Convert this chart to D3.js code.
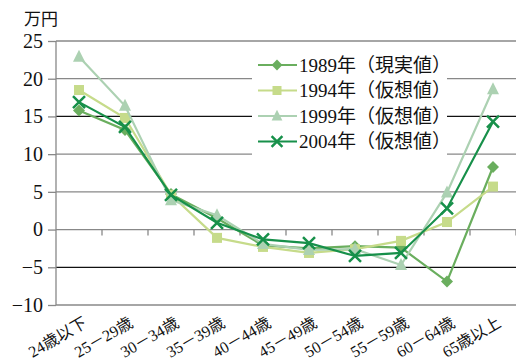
<!DOCTYPE html>
<html><head><meta charset="utf-8">
<script src="https://cdn.jsdelivr.net/npm/d3@7"></script>
<style>
body{margin:0;background:#fff;}
</style></head>
<body><svg id="c" width="516" height="363"></svg>
<script>
const categories = ["24歳以下","25－29歳","30－34歳","35－39歳","40－44歳","45－49歳","50－54歳","55－59歳","60－64歳","65歳以上"];
const s1989 = [15.8, 13.2, 4.7, 1.5, -2.1, -2.5, -2.2, -2.4, -6.9, 8.3];
const s1994 = [18.5, 14.8, 4.6, -1.1, -2.3, -3.1, -2.6, -1.5, 1.0, 5.7];
const s1999 = [22.9, 16.4, 3.9, 1.9, -1.9, -2.7, -2.6, -4.7, 4.9, 18.6];
const s2004 = [16.9, 13.6, 4.6, 0.9, -1.3, -1.8, -3.5, -3.1, 2.8, 14.3];
const seriesNames = ["1989年（現実値）","1994年（仮想値）","1999年（仮想値）","2004年（仮想値）"];
const yTicks = [-10,-5,0,5,10,15,20,25];

const FONT = "Liberation Serif, Times New Roman, DejaVu Serif, Noto Sans CJK JP, serif";
const series = [
  {name:seriesNames[0], values:s1989, color:"#6aae5e", sym:"diamond"},
  {name:seriesNames[1], values:s1994, color:"#c6db8a", sym:"square"},
  {name:seriesNames[2], values:s1999, color:"#acd1b2", sym:"triangle"},
  {name:seriesNames[3], values:s2004, color:"#17904a", sym:"cross"}
];

const svg = d3.select("#c").style("font-family",FONT);
const L=56, R=516, T=41, B=305;
const x = d3.scaleBand().domain(categories).range([L,R]);
const y = d3.scaleLinear().domain([-10,25]).range([B,T]);

// grid
svg.append("g").selectAll("line").data(yTicks.filter(d=>d>-10)).join("line")
  .attr("x1",L).attr("x2",R).attr("y1",d=>y(d)).attr("y2",d=>y(d))
  .attr("stroke",d=>(d===15||d===-5)?"#111":"#888").attr("stroke-width",1.3);

// y axis
const ya = svg.append("g").attr("transform",`translate(${L},0)`)
  .call(d3.axisLeft(y).tickValues(yTicks).tickSize(8).tickPadding(5).tickFormat(d=>d<0?"−"+Math.abs(d):d));
ya.attr("font-family",FONT);
ya.selectAll("path,line").attr("stroke","#888").attr("stroke-width",1.3);
ya.select(".domain").attr("d",`M0,${B}V${T}`);
ya.selectAll("text").attr("font-size",20).style("font-family",FONT).attr("fill","#111");

// bottom axis line
svg.append("line").attr("x1",L).attr("x2",R).attr("y1",B).attr("y2",B).attr("stroke","#888").attr("stroke-width",1.3);

// x ticks at zero line
const boundaries = categories.slice(1).map(c=>x(c)).concat([R]);
svg.append("g").selectAll("line").data(boundaries).join("line")
  .attr("x1",d=>d).attr("x2",d=>d).attr("y1",y(0)).attr("y2",y(0)+6)
  .attr("stroke","#888").attr("stroke-width",1.3);

// x labels
svg.append("g").selectAll("text").data(categories).join("text")
  .attr("transform",d=>`translate(${x(d)+x.bandwidth()/2+9},${B+21}) rotate(-30)`)
  .attr("text-anchor","end").attr("font-size",16).attr("fill","#111").text(d=>d);

// unit
svg.append("text").attr("x",24).attr("y",25).attr("font-size",17).attr("fill","#111").text("万円");

function drawSym(g, sym, color, cx, cy, scale){
  const s = scale||1;
  if(sym==="diamond"){
    g.append("path").attr("d",`M${cx},${cy-6*s}L${cx+6*s},${cy}L${cx},${cy+6*s}L${cx-6*s},${cy}Z`).attr("fill",color);
  } else if(sym==="square"){
    g.append("rect").attr("x",cx-5*s).attr("y",cy-5*s).attr("width",10*s).attr("height",10*s).attr("fill",color);
  } else if(sym==="triangle"){
    g.append("path").attr("d",`M${cx},${cy-7*s}L${cx+6*s},${cy+5*s}L${cx-6*s},${cy+5*s}Z`).attr("fill",color);
  } else {
    g.append("path").attr("d",`M${cx-6*s},${cy-6*s}L${cx+6*s},${cy+6*s}M${cx+6*s},${cy-6*s}L${cx-6*s},${cy+6*s}`)
      .attr("stroke",color).attr("stroke-width",2.5).attr("fill","none");
  }
}

const line = d3.line().x((d,i)=>x(categories[i])+x.bandwidth()/2).y(d=>y(d));
series.forEach(s=>{
  const g = svg.append("g");
  g.append("path").attr("d",line(s.values)).attr("fill","none").attr("stroke",s.color).attr("stroke-width",2.2);
  s.values.forEach((v,i)=>drawSym(g,s.sym,s.color,x(categories[i])+x.bandwidth()/2,y(v)));
});

// legend
const lg = svg.append("g");
lg.append("rect").attr("x",252).attr("y",51).attr("width",195).attr("height",110).attr("fill","#fff");
series.forEach((s,i)=>{
  const yy = 65 + i*25.5;
  lg.append("line").attr("x1",258).attr("x2",297).attr("y1",yy).attr("y2",yy).attr("stroke",s.color).attr("stroke-width",2.2);
  drawSym(lg,s.sym,s.color,277,yy,0.9);
  lg.append("text").attr("x",299).attr("y",yy).attr("dy","0.35em").attr("font-size",19).attr("fill","#111").text(s.name);
});
</script></body></html>
